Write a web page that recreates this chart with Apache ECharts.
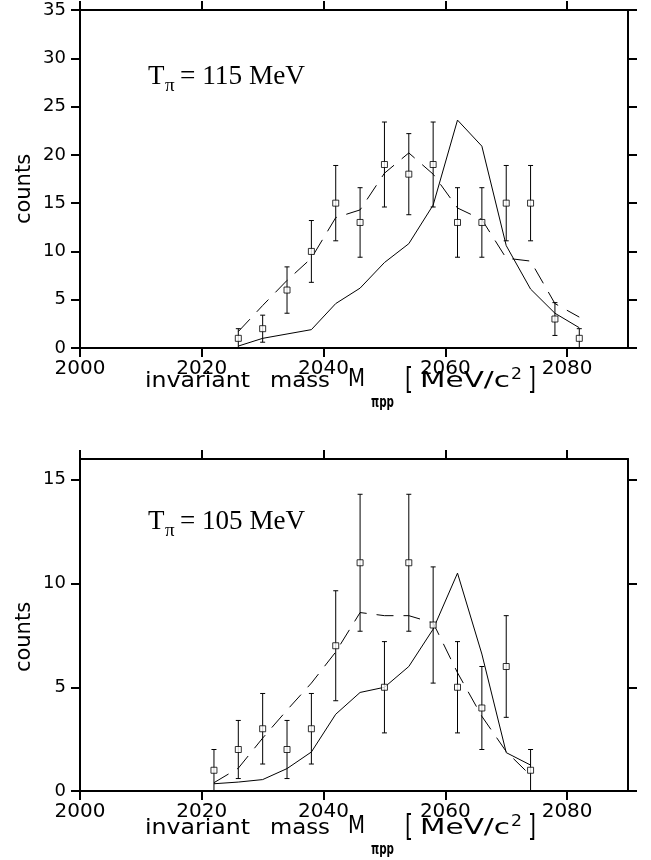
<!DOCTYPE html>
<html>
<head>
<meta charset="utf-8">
<script src="https://cdn.jsdelivr.net/npm/echarts@6/dist/echarts.min.js"></script>
<style>
html,body{margin:0;padding:0;background:#fff;}
#chart{width:651px;height:860px;}
</style>
</head>
<body>
<div id="chart"></div>
<script>
// ---- Data ----
const xTickValues = [2000, 2020, 2040, 2060, 2080];
const yTickValuesTop = [0, 5, 10, 15, 20, 25, 30, 35];
const yTickValuesBottom = [0, 5, 10, 15];

// Top panel: T_pi = 115 MeV
const massTop = [2026, 2030, 2034, 2038, 2042, 2046, 2050, 2054, 2058, 2062, 2066, 2070, 2074, 2078, 2082];
const countsTop = [1, 2, 6, 10, 15, 13, 19, 18, 19, 13, 13, 15, 15, 3, 1];
const errTop = [1, 1.4, 2.4, 3.2, 3.9, 3.6, 4.4, 4.2, 4.4, 3.6, 3.6, 3.9, 3.9, 1.7, 1];
const solidTop = [0.2, 1.0, 1.45, 1.9, 4.6, 6.2, 8.85, 10.8, 14.8, 23.6, 20.9, 10.6, 6.1, 3.6, 2.1];
const dashedTop = [1.7, 4.4, 7.0, 9.3, 13.5, 14.3, 18.1, 20.2, 18.0, 14.5, 13.3, 9.3, 9.0, 4.6, 3.2];

// Bottom panel: T_pi = 105 MeV
const massBottom = [2022, 2026, 2030, 2034, 2038, 2042, 2046, 2050, 2054, 2058, 2062, 2066, 2070, 2074];
const countsBottom = [1, 2, 3, 2, 3, 7, 11, 5, 11, 8, 5, 4, 6, 1];
const errBottom = [1, 1.4, 1.7, 1.4, 1.7, 2.65, 3.3, 2.2, 3.3, 2.8, 2.2, 2, 2.45, 1];
const solidBottom = [0.35, 0.43, 0.55, 1.08, 1.88, 3.7, 4.75, 5.0, 6.0, 7.8, 10.5, 6.6, 1.85, 1.25];
const dashedBottom = [0.4, 1.1, 2.55, 3.9, 5.2, 6.7, 8.6, 8.45, 8.45, 8.1, 5.7, 3.6, 1.9, 0.75];

// ---- Helpers ----
const measureCtx = document.createElement('canvas').getContext('2d');
function fitScale(text, font, targetW) {
  measureCtx.font = font;
  const w = measureCtx.measureText(text).width;
  return w > 0 ? targetW / w : 1;
}
function pairs(xs, ys) { return xs.map((x, i) => [x, ys[i]]); }
function triples(xs, ys, es) { return xs.map((x, i) => [x, ys[i], es[i]]); }

const SANS = '"DejaVu Sans"';
const SERIF = '"Liberation Serif"';
const plainNum = function (v) { return String(v); };

function xAxes(grid) {
  const base = {
    gridIndex: grid, type: 'value', min: 2000, max: 2090,
    axisLine: { show: true, onZero: false, lineStyle: { color: '#000', width: 2 } },
    axisTick: { show: true, inside: false, length: 9, lineStyle: { color: '#000', width: 2 }, customValues: xTickValues },
    splitLine: { show: false }
  };
  return [
    Object.assign({}, base, { position: 'bottom',
      axisLabel: { show: true, customValues: xTickValues, formatter: plainNum, color: '#000', fontFamily: SANS, fontSize: 20, margin: 11 } }),
    Object.assign({}, base, { position: 'top', axisLabel: { show: false } })
  ];
}
function yAxes(grid, max, ticks) {
  const base = {
    gridIndex: grid, type: 'value', min: 0, max: max,
    axisLine: { show: true, onZero: false, lineStyle: { color: '#000', width: 2 } },
    axisTick: { show: true, inside: false, length: 9, lineStyle: { color: '#000', width: 2 }, customValues: ticks },
    splitLine: { show: false }
  };
  return [
    Object.assign({}, base, { position: 'left',
      axisLabel: { show: true, customValues: ticks, formatter: plainNum, color: '#000', fontFamily: SANS, fontSize: 18, margin: 14 } }),
    Object.assign({}, base, { position: 'right', axisLabel: { show: false } })
  ];
}

function errorBarSeries(xi, yi, data) {
  return {
    type: 'custom', xAxisIndex: xi, yAxisIndex: yi, data: data, z: 3, silent: true,
    renderItem: function (params, api) {
      const x = api.value(0), y = api.value(1), e = api.value(2);
      const top = api.coord([x, y + e]);
      const bot = api.coord([x, Math.max(0, y - e)]);
      const cap = 2.5;
      const st = { stroke: '#000', lineWidth: 1 };
      return {
        type: 'group',
        children: [
          { type: 'line', shape: { x1: top[0], y1: top[1], x2: bot[0], y2: bot[1] }, style: st },
          { type: 'line', shape: { x1: top[0] - cap, y1: top[1], x2: top[0] + cap, y2: top[1] }, style: st },
          { type: 'line', shape: { x1: bot[0] - cap, y1: bot[1], x2: bot[0] + cap, y2: bot[1] }, style: st }
        ]
      };
    }
  };
}
function lineSeries(xi, yi, data, dashed) {
  return {
    type: 'line', xAxisIndex: xi, yAxisIndex: yi, data: data, symbol: 'none', z: 2, silent: true,
    lineStyle: { color: '#000', width: 1, type: dashed ? [17, 10] : 'solid' }
  };
}
function markerSeries(xi, yi, data) {
  return {
    type: 'scatter', xAxisIndex: xi, yAxisIndex: yi, data: data, symbol: 'rect', symbolSize: 6, z: 5, silent: true,
    itemStyle: { color: '#fff', borderColor: '#000', borderWidth: 1 }
  };
}

// ---- Text graphics ----
function textPiece(str, x, yMid, family, size, targetW, weight) {
  const font = (weight ? weight + ' ' : '') + size + 'px ' + family;
  const sx = targetW ? fitScale(str, font, targetW) : 1;
  return {
    type: 'text', x: x, y: yMid, scaleX: sx, silent: true,
    style: { text: str, fill: '#000', font: font, textAlign: 'left', textVerticalAlign: 'middle' }
  };
}
function xTitle(dy) {
  return [
    textPiece('invariant', 145, 382 + dy, SANS, 21, 105),
    textPiece('mass', 270, 382 + dy, SANS, 21, 60),
    textPiece('M', 348, 380 + dy, SANS, 24, 17),
    textPiece('πpp', 371, 403 + dy, SANS, 15, 23, 'bold'),
    textPiece('[', 405, 381 + dy, SANS, 30, 8),
    textPiece('MeV/c', 420, 382 + dy, SANS, 21, 90),
    textPiece('2', 511, 375 + dy, SANS, 15, 11),
    textPiece(']', 528, 381 + dy, SANS, 30, 8)
  ];
}
function serifTitle(energy, dy) {
  return [
    textPiece('T', 148, 77 + dy, SERIF, 27, 0),
    textPiece('π', 165, 86 + dy, SERIF, 19, 0),
    textPiece('= ' + energy + ' MeV', 180, 77 + dy, SERIF, 27, 125)
  ];
}
function yTitle(yMid) {
  return {
    type: 'text', x: 25, y: yMid, rotation: Math.PI / 2, silent: true,
    style: { text: 'counts', fill: '#000', font: '21px ' + SANS, textAlign: 'center', textVerticalAlign: 'middle' }
  };
}

const chart = echarts.init(document.getElementById('chart'), null, { renderer: 'canvas' });
chart.setOption({
  animation: false,
  backgroundColor: '#fff',
  grid: [
    { left: 80, top: 10, width: 548, height: 338 },
    { left: 80, top: 459, width: 548, height: 332 }
  ],
  xAxis: xAxes(0).concat(xAxes(1)),
  yAxis: yAxes(0, 35, yTickValuesTop).concat(yAxes(1, 16, yTickValuesBottom)),
  series: [
    lineSeries(0, 0, pairs(massTop, solidTop), false),
    lineSeries(0, 0, pairs(massTop, dashedTop), true),
    errorBarSeries(0, 0, triples(massTop, countsTop, errTop)),
    markerSeries(0, 0, pairs(massTop, countsTop)),
    lineSeries(2, 2, pairs(massBottom, solidBottom), false),
    lineSeries(2, 2, pairs(massBottom, dashedBottom), true),
    errorBarSeries(2, 2, triples(massBottom, countsBottom, errBottom)),
    markerSeries(2, 2, pairs(massBottom, countsBottom))
  ],
  graphic: [].concat(
    xTitle(0), xTitle(447),
    serifTitle('115', 0), serifTitle('105', 445),
    [yTitle(189), yTitle(637)]
  )
});
</script>
</body>
</html>
